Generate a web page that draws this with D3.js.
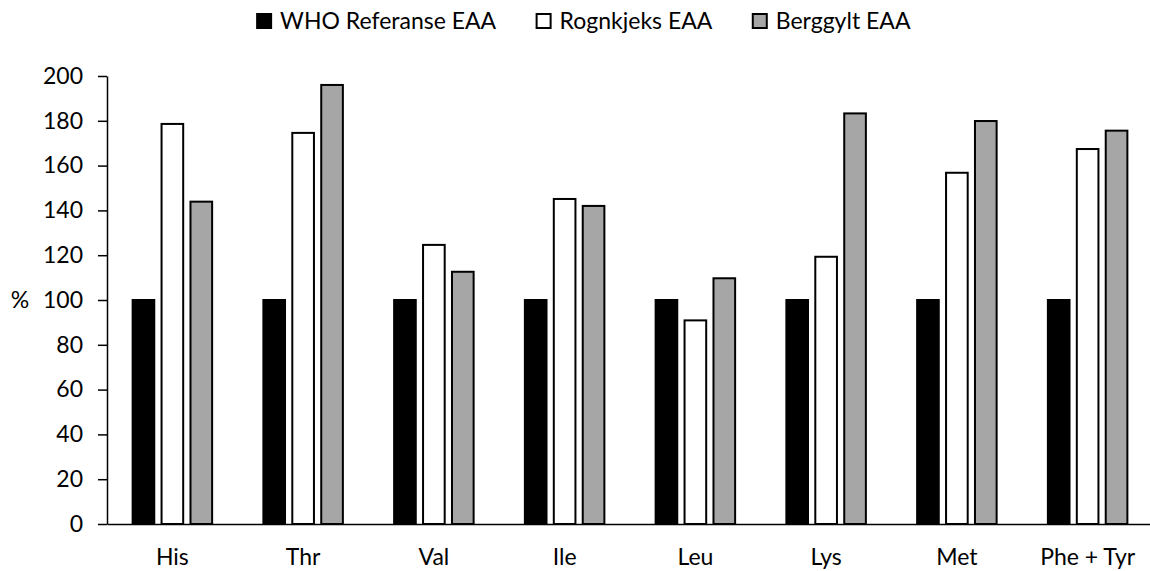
<!DOCTYPE html>
<meta charset="utf-8">
<style>
  body { margin: 0; background: #fff; }
  text { font-family: Lato, "Open Sans", sans-serif; fill: #000; }
  .axis path, .axis line { stroke: #000; stroke-width: 1.5px; }
</style>
<body>
<svg id="chart"></svg>
<script src="https://cdn.jsdelivr.net/npm/d3@7"></script>
<script>
  var width = 1150,
    height = 571;

  // data
  var categories = ["His", "Thr", "Val", "Ile", "Leu", "Lys", "Met", "Phe + Tyr"];
  var seriesNames = ["WHO Referanse EAA", "Rognkjeks EAA", "Berggylt EAA"];
  var whoValues = [100, 100, 100, 100, 100, 100, 100, 100];
  var rognkjeksValues = [178.6, 174.6, 124.6, 145.1, 90.9, 119.3, 156.8, 167.4];
  var berggyltValues = [143.9, 196.0, 112.6, 142.0, 109.7, 183.3, 179.9, 175.6];
  var yTicks = [0, 20, 40, 60, 80, 100, 120, 140, 160, 180, 200];
  var seriesColors = ["#000000", "#ffffff", "#a6a6a6"];

  var seriesValues = [whoValues, rognkjeksValues, berggyltValues];
  var fontSize = "23px";

  var margin = {left: 107, right: -3, top: 76, bottom: 47};

  var svg = d3.select("#chart")
    .attr("width", width)
    .attr("height", height);

  var x0 = d3.scaleBand()
    .domain(categories)
    .range([margin.left, width - margin.right]);

  var groupW = 81;
  var x1 = d3.scaleBand()
    .domain(d3.range(seriesNames.length))
    .range([(x0.bandwidth() - groupW) / 2, (x0.bandwidth() + groupW) / 2])
    .paddingInner(0.2);

  var y = d3.scaleLinear()
    .domain([0, 200])
    .range([height - margin.bottom, margin.top]);

  // bars
  var groups = svg.append("g")
    .selectAll("g")
    .data(categories)
    .enter().append("g")
    .attr("transform", function (d) { return "translate(" + x0(d) + ",0)"; });

  groups.selectAll("rect")
    .data(function (d, i) {
      return seriesValues.map(function (vals, s) { return {s: s, v: vals[i]}; });
    })
    .enter().append("rect")
    .attr("x", function (d) { return x1(d.s) + 0.75; })
    .attr("width", x1.bandwidth() - 1.5)
    .attr("y", function (d) { return y(d.v); })
    .attr("height", function (d) { return y(0) - y(d.v); })
    .attr("fill", function (d) { return seriesColors[d.s]; })
    .attr("stroke", "#000")
    .attr("stroke-width", 2);

  // y axis
  var yAxis = svg.append("g")
    .attr("class", "axis")
    .attr("transform", "translate(" + margin.left + ",0)")
    .call(d3.axisLeft(y).tickValues(yTicks).tickSize(9).tickPadding(15).tickSizeOuter(0));
  yAxis.selectAll("text").style("font-size", fontSize);

  // x axis
  var xAxis = svg.append("g")
    .attr("class", "axis")
    .attr("transform", "translate(0," + y(0) + ")")
    .call(d3.axisBottom(x0).tickSize(0).tickPadding(25).tickSizeOuter(0));
  xAxis.selectAll("text").style("font-size", fontSize);

  // y label
  svg.append("text")
    .attr("x", 20)
    .attr("y", y(100))
    .attr("dy", "0.35em")
    .attr("text-anchor", "middle")
    .style("font-size", fontSize)
    .text("%");

  // legend
  var legend = svg.append("g");
  var items = legend.selectAll("g")
    .data(seriesNames)
    .enter().append("g");
  items.append("rect")
    .attr("x", 1)
    .attr("y", 14)
    .attr("width", 14)
    .attr("height", 14)
    .attr("fill", function (d, i) { return seriesColors[i]; })
    .attr("stroke", "#000")
    .attr("stroke-width", 2);
  items.append("text")
    .attr("x", 24)
    .attr("y", 21)
    .attr("dy", "0.35em")
    .style("font-size", fontSize)
    .text(function (d) { return d; });

  var xPos = 0, offsets = [];
  items.each(function () {
    offsets.push(xPos);
    xPos += this.getBBox().width + 40;
  });
  var totalW = xPos - 40;
  var startX = 583 - totalW / 2;
  items.attr("transform", function (d, i) { return "translate(" + (startX + offsets[i]) + ",0)"; });
</script>
</body>
